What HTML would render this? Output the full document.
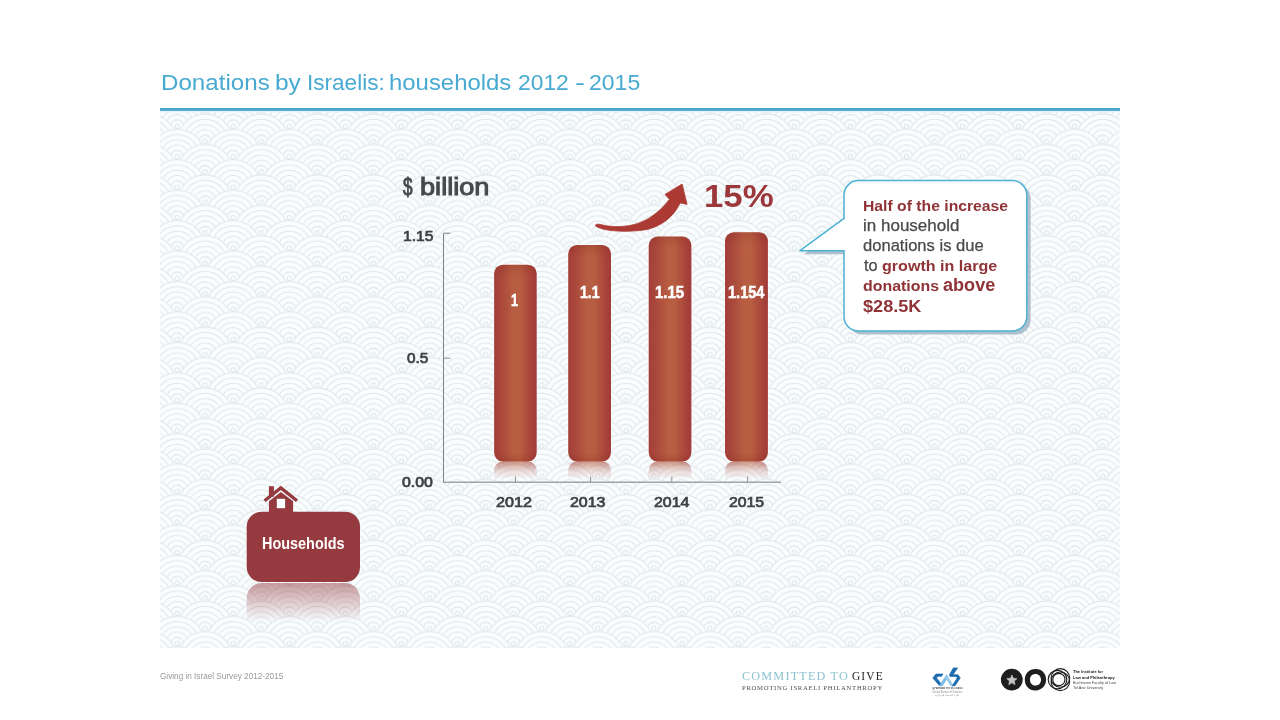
<!DOCTYPE html>
<html lang="en">
<head>
<meta charset="utf-8">
<title>Donations by Israelis: households 2012 - 2015</title>
<style>
html,body{margin:0;padding:0;background:#ffffff;}
body{width:1280px;height:720px;overflow:hidden;position:relative;font-family:"Liberation Sans",sans-serif;}
.slide{position:absolute;left:0;top:0;width:1280px;height:720px;overflow:hidden;background:#ffffff;}
.bgsvg{position:absolute;left:0;top:0;}
.t{position:absolute;white-space:nowrap;transform-origin:0 0;margin:0;padding:0;}
.tw span{position:absolute;top:0;transform-origin:0 0;white-space:nowrap;}
</style>
</head>
<body>
<div class="slide">
<svg class="bgsvg" width="1280" height="720" viewBox="0 0 1280 720">
<defs>
<pattern id="sg" x="36.90" y="19.79" width="56.1" height="30.44" patternUnits="userSpaceOnUse"><circle cx="-28.05" cy="-15.22" r="28.05" fill="#f9fdfe" stroke="none"/><circle cx="-28.05" cy="-15.22" r="27.60" fill="none" stroke="#dfe6e9" stroke-width="1.0"/><circle cx="-28.05" cy="-15.22" r="22.30" fill="none" stroke="#dfe6e9" stroke-width="1.0"/><circle cx="-28.05" cy="-15.22" r="17.00" fill="none" stroke="#dfe6e9" stroke-width="1.0"/><circle cx="-28.05" cy="-15.22" r="11.70" fill="none" stroke="#dfe6e9" stroke-width="1.0"/><circle cx="-28.05" cy="-15.22" r="6.50" fill="none" stroke="#dfe6e9" stroke-width="1.0"/><circle cx="-28.05" cy="-15.22" r="2.20" fill="none" stroke="#dfe6e9" stroke-width="1.0"/><circle cx="28.05" cy="-15.22" r="28.05" fill="#f9fdfe" stroke="none"/><circle cx="28.05" cy="-15.22" r="27.60" fill="none" stroke="#dfe6e9" stroke-width="1.0"/><circle cx="28.05" cy="-15.22" r="22.30" fill="none" stroke="#dfe6e9" stroke-width="1.0"/><circle cx="28.05" cy="-15.22" r="17.00" fill="none" stroke="#dfe6e9" stroke-width="1.0"/><circle cx="28.05" cy="-15.22" r="11.70" fill="none" stroke="#dfe6e9" stroke-width="1.0"/><circle cx="28.05" cy="-15.22" r="6.50" fill="none" stroke="#dfe6e9" stroke-width="1.0"/><circle cx="28.05" cy="-15.22" r="2.20" fill="none" stroke="#dfe6e9" stroke-width="1.0"/><circle cx="84.15" cy="-15.22" r="28.05" fill="#f9fdfe" stroke="none"/><circle cx="84.15" cy="-15.22" r="27.60" fill="none" stroke="#dfe6e9" stroke-width="1.0"/><circle cx="84.15" cy="-15.22" r="22.30" fill="none" stroke="#dfe6e9" stroke-width="1.0"/><circle cx="84.15" cy="-15.22" r="17.00" fill="none" stroke="#dfe6e9" stroke-width="1.0"/><circle cx="84.15" cy="-15.22" r="11.70" fill="none" stroke="#dfe6e9" stroke-width="1.0"/><circle cx="84.15" cy="-15.22" r="6.50" fill="none" stroke="#dfe6e9" stroke-width="1.0"/><circle cx="84.15" cy="-15.22" r="2.20" fill="none" stroke="#dfe6e9" stroke-width="1.0"/><circle cx="-56.10" cy="0.00" r="28.05" fill="#f9fdfe" stroke="none"/><circle cx="-56.10" cy="0.00" r="27.60" fill="none" stroke="#dfe6e9" stroke-width="1.0"/><circle cx="-56.10" cy="0.00" r="22.30" fill="none" stroke="#dfe6e9" stroke-width="1.0"/><circle cx="-56.10" cy="0.00" r="17.00" fill="none" stroke="#dfe6e9" stroke-width="1.0"/><circle cx="-56.10" cy="0.00" r="11.70" fill="none" stroke="#dfe6e9" stroke-width="1.0"/><circle cx="-56.10" cy="0.00" r="6.50" fill="none" stroke="#dfe6e9" stroke-width="1.0"/><circle cx="-56.10" cy="0.00" r="2.20" fill="none" stroke="#dfe6e9" stroke-width="1.0"/><circle cx="0.00" cy="0.00" r="28.05" fill="#f9fdfe" stroke="none"/><circle cx="0.00" cy="0.00" r="27.60" fill="none" stroke="#dfe6e9" stroke-width="1.0"/><circle cx="0.00" cy="0.00" r="22.30" fill="none" stroke="#dfe6e9" stroke-width="1.0"/><circle cx="0.00" cy="0.00" r="17.00" fill="none" stroke="#dfe6e9" stroke-width="1.0"/><circle cx="0.00" cy="0.00" r="11.70" fill="none" stroke="#dfe6e9" stroke-width="1.0"/><circle cx="0.00" cy="0.00" r="6.50" fill="none" stroke="#dfe6e9" stroke-width="1.0"/><circle cx="0.00" cy="0.00" r="2.20" fill="none" stroke="#dfe6e9" stroke-width="1.0"/><circle cx="56.10" cy="0.00" r="28.05" fill="#f9fdfe" stroke="none"/><circle cx="56.10" cy="0.00" r="27.60" fill="none" stroke="#dfe6e9" stroke-width="1.0"/><circle cx="56.10" cy="0.00" r="22.30" fill="none" stroke="#dfe6e9" stroke-width="1.0"/><circle cx="56.10" cy="0.00" r="17.00" fill="none" stroke="#dfe6e9" stroke-width="1.0"/><circle cx="56.10" cy="0.00" r="11.70" fill="none" stroke="#dfe6e9" stroke-width="1.0"/><circle cx="56.10" cy="0.00" r="6.50" fill="none" stroke="#dfe6e9" stroke-width="1.0"/><circle cx="56.10" cy="0.00" r="2.20" fill="none" stroke="#dfe6e9" stroke-width="1.0"/><circle cx="112.20" cy="0.00" r="28.05" fill="#f9fdfe" stroke="none"/><circle cx="112.20" cy="0.00" r="27.60" fill="none" stroke="#dfe6e9" stroke-width="1.0"/><circle cx="112.20" cy="0.00" r="22.30" fill="none" stroke="#dfe6e9" stroke-width="1.0"/><circle cx="112.20" cy="0.00" r="17.00" fill="none" stroke="#dfe6e9" stroke-width="1.0"/><circle cx="112.20" cy="0.00" r="11.70" fill="none" stroke="#dfe6e9" stroke-width="1.0"/><circle cx="112.20" cy="0.00" r="6.50" fill="none" stroke="#dfe6e9" stroke-width="1.0"/><circle cx="112.20" cy="0.00" r="2.20" fill="none" stroke="#dfe6e9" stroke-width="1.0"/><circle cx="-28.05" cy="15.22" r="28.05" fill="#f9fdfe" stroke="none"/><circle cx="-28.05" cy="15.22" r="27.60" fill="none" stroke="#dfe6e9" stroke-width="1.0"/><circle cx="-28.05" cy="15.22" r="22.30" fill="none" stroke="#dfe6e9" stroke-width="1.0"/><circle cx="-28.05" cy="15.22" r="17.00" fill="none" stroke="#dfe6e9" stroke-width="1.0"/><circle cx="-28.05" cy="15.22" r="11.70" fill="none" stroke="#dfe6e9" stroke-width="1.0"/><circle cx="-28.05" cy="15.22" r="6.50" fill="none" stroke="#dfe6e9" stroke-width="1.0"/><circle cx="-28.05" cy="15.22" r="2.20" fill="none" stroke="#dfe6e9" stroke-width="1.0"/><circle cx="28.05" cy="15.22" r="28.05" fill="#f9fdfe" stroke="none"/><circle cx="28.05" cy="15.22" r="27.60" fill="none" stroke="#dfe6e9" stroke-width="1.0"/><circle cx="28.05" cy="15.22" r="22.30" fill="none" stroke="#dfe6e9" stroke-width="1.0"/><circle cx="28.05" cy="15.22" r="17.00" fill="none" stroke="#dfe6e9" stroke-width="1.0"/><circle cx="28.05" cy="15.22" r="11.70" fill="none" stroke="#dfe6e9" stroke-width="1.0"/><circle cx="28.05" cy="15.22" r="6.50" fill="none" stroke="#dfe6e9" stroke-width="1.0"/><circle cx="28.05" cy="15.22" r="2.20" fill="none" stroke="#dfe6e9" stroke-width="1.0"/><circle cx="84.15" cy="15.22" r="28.05" fill="#f9fdfe" stroke="none"/><circle cx="84.15" cy="15.22" r="27.60" fill="none" stroke="#dfe6e9" stroke-width="1.0"/><circle cx="84.15" cy="15.22" r="22.30" fill="none" stroke="#dfe6e9" stroke-width="1.0"/><circle cx="84.15" cy="15.22" r="17.00" fill="none" stroke="#dfe6e9" stroke-width="1.0"/><circle cx="84.15" cy="15.22" r="11.70" fill="none" stroke="#dfe6e9" stroke-width="1.0"/><circle cx="84.15" cy="15.22" r="6.50" fill="none" stroke="#dfe6e9" stroke-width="1.0"/><circle cx="84.15" cy="15.22" r="2.20" fill="none" stroke="#dfe6e9" stroke-width="1.0"/><circle cx="-56.10" cy="30.44" r="28.05" fill="#f9fdfe" stroke="none"/><circle cx="-56.10" cy="30.44" r="27.60" fill="none" stroke="#dfe6e9" stroke-width="1.0"/><circle cx="-56.10" cy="30.44" r="22.30" fill="none" stroke="#dfe6e9" stroke-width="1.0"/><circle cx="-56.10" cy="30.44" r="17.00" fill="none" stroke="#dfe6e9" stroke-width="1.0"/><circle cx="-56.10" cy="30.44" r="11.70" fill="none" stroke="#dfe6e9" stroke-width="1.0"/><circle cx="-56.10" cy="30.44" r="6.50" fill="none" stroke="#dfe6e9" stroke-width="1.0"/><circle cx="-56.10" cy="30.44" r="2.20" fill="none" stroke="#dfe6e9" stroke-width="1.0"/><circle cx="0.00" cy="30.44" r="28.05" fill="#f9fdfe" stroke="none"/><circle cx="0.00" cy="30.44" r="27.60" fill="none" stroke="#dfe6e9" stroke-width="1.0"/><circle cx="0.00" cy="30.44" r="22.30" fill="none" stroke="#dfe6e9" stroke-width="1.0"/><circle cx="0.00" cy="30.44" r="17.00" fill="none" stroke="#dfe6e9" stroke-width="1.0"/><circle cx="0.00" cy="30.44" r="11.70" fill="none" stroke="#dfe6e9" stroke-width="1.0"/><circle cx="0.00" cy="30.44" r="6.50" fill="none" stroke="#dfe6e9" stroke-width="1.0"/><circle cx="0.00" cy="30.44" r="2.20" fill="none" stroke="#dfe6e9" stroke-width="1.0"/><circle cx="56.10" cy="30.44" r="28.05" fill="#f9fdfe" stroke="none"/><circle cx="56.10" cy="30.44" r="27.60" fill="none" stroke="#dfe6e9" stroke-width="1.0"/><circle cx="56.10" cy="30.44" r="22.30" fill="none" stroke="#dfe6e9" stroke-width="1.0"/><circle cx="56.10" cy="30.44" r="17.00" fill="none" stroke="#dfe6e9" stroke-width="1.0"/><circle cx="56.10" cy="30.44" r="11.70" fill="none" stroke="#dfe6e9" stroke-width="1.0"/><circle cx="56.10" cy="30.44" r="6.50" fill="none" stroke="#dfe6e9" stroke-width="1.0"/><circle cx="56.10" cy="30.44" r="2.20" fill="none" stroke="#dfe6e9" stroke-width="1.0"/><circle cx="112.20" cy="30.44" r="28.05" fill="#f9fdfe" stroke="none"/><circle cx="112.20" cy="30.44" r="27.60" fill="none" stroke="#dfe6e9" stroke-width="1.0"/><circle cx="112.20" cy="30.44" r="22.30" fill="none" stroke="#dfe6e9" stroke-width="1.0"/><circle cx="112.20" cy="30.44" r="17.00" fill="none" stroke="#dfe6e9" stroke-width="1.0"/><circle cx="112.20" cy="30.44" r="11.70" fill="none" stroke="#dfe6e9" stroke-width="1.0"/><circle cx="112.20" cy="30.44" r="6.50" fill="none" stroke="#dfe6e9" stroke-width="1.0"/><circle cx="112.20" cy="30.44" r="2.20" fill="none" stroke="#dfe6e9" stroke-width="1.0"/><circle cx="-28.05" cy="45.66" r="28.05" fill="#f9fdfe" stroke="none"/><circle cx="-28.05" cy="45.66" r="27.60" fill="none" stroke="#dfe6e9" stroke-width="1.0"/><circle cx="-28.05" cy="45.66" r="22.30" fill="none" stroke="#dfe6e9" stroke-width="1.0"/><circle cx="-28.05" cy="45.66" r="17.00" fill="none" stroke="#dfe6e9" stroke-width="1.0"/><circle cx="-28.05" cy="45.66" r="11.70" fill="none" stroke="#dfe6e9" stroke-width="1.0"/><circle cx="-28.05" cy="45.66" r="6.50" fill="none" stroke="#dfe6e9" stroke-width="1.0"/><circle cx="-28.05" cy="45.66" r="2.20" fill="none" stroke="#dfe6e9" stroke-width="1.0"/><circle cx="28.05" cy="45.66" r="28.05" fill="#f9fdfe" stroke="none"/><circle cx="28.05" cy="45.66" r="27.60" fill="none" stroke="#dfe6e9" stroke-width="1.0"/><circle cx="28.05" cy="45.66" r="22.30" fill="none" stroke="#dfe6e9" stroke-width="1.0"/><circle cx="28.05" cy="45.66" r="17.00" fill="none" stroke="#dfe6e9" stroke-width="1.0"/><circle cx="28.05" cy="45.66" r="11.70" fill="none" stroke="#dfe6e9" stroke-width="1.0"/><circle cx="28.05" cy="45.66" r="6.50" fill="none" stroke="#dfe6e9" stroke-width="1.0"/><circle cx="28.05" cy="45.66" r="2.20" fill="none" stroke="#dfe6e9" stroke-width="1.0"/><circle cx="84.15" cy="45.66" r="28.05" fill="#f9fdfe" stroke="none"/><circle cx="84.15" cy="45.66" r="27.60" fill="none" stroke="#dfe6e9" stroke-width="1.0"/><circle cx="84.15" cy="45.66" r="22.30" fill="none" stroke="#dfe6e9" stroke-width="1.0"/><circle cx="84.15" cy="45.66" r="17.00" fill="none" stroke="#dfe6e9" stroke-width="1.0"/><circle cx="84.15" cy="45.66" r="11.70" fill="none" stroke="#dfe6e9" stroke-width="1.0"/><circle cx="84.15" cy="45.66" r="6.50" fill="none" stroke="#dfe6e9" stroke-width="1.0"/><circle cx="84.15" cy="45.66" r="2.20" fill="none" stroke="#dfe6e9" stroke-width="1.0"/><circle cx="-56.10" cy="60.88" r="28.05" fill="#f9fdfe" stroke="none"/><circle cx="-56.10" cy="60.88" r="27.60" fill="none" stroke="#dfe6e9" stroke-width="1.0"/><circle cx="-56.10" cy="60.88" r="22.30" fill="none" stroke="#dfe6e9" stroke-width="1.0"/><circle cx="-56.10" cy="60.88" r="17.00" fill="none" stroke="#dfe6e9" stroke-width="1.0"/><circle cx="-56.10" cy="60.88" r="11.70" fill="none" stroke="#dfe6e9" stroke-width="1.0"/><circle cx="-56.10" cy="60.88" r="6.50" fill="none" stroke="#dfe6e9" stroke-width="1.0"/><circle cx="-56.10" cy="60.88" r="2.20" fill="none" stroke="#dfe6e9" stroke-width="1.0"/><circle cx="0.00" cy="60.88" r="28.05" fill="#f9fdfe" stroke="none"/><circle cx="0.00" cy="60.88" r="27.60" fill="none" stroke="#dfe6e9" stroke-width="1.0"/><circle cx="0.00" cy="60.88" r="22.30" fill="none" stroke="#dfe6e9" stroke-width="1.0"/><circle cx="0.00" cy="60.88" r="17.00" fill="none" stroke="#dfe6e9" stroke-width="1.0"/><circle cx="0.00" cy="60.88" r="11.70" fill="none" stroke="#dfe6e9" stroke-width="1.0"/><circle cx="0.00" cy="60.88" r="6.50" fill="none" stroke="#dfe6e9" stroke-width="1.0"/><circle cx="0.00" cy="60.88" r="2.20" fill="none" stroke="#dfe6e9" stroke-width="1.0"/><circle cx="56.10" cy="60.88" r="28.05" fill="#f9fdfe" stroke="none"/><circle cx="56.10" cy="60.88" r="27.60" fill="none" stroke="#dfe6e9" stroke-width="1.0"/><circle cx="56.10" cy="60.88" r="22.30" fill="none" stroke="#dfe6e9" stroke-width="1.0"/><circle cx="56.10" cy="60.88" r="17.00" fill="none" stroke="#dfe6e9" stroke-width="1.0"/><circle cx="56.10" cy="60.88" r="11.70" fill="none" stroke="#dfe6e9" stroke-width="1.0"/><circle cx="56.10" cy="60.88" r="6.50" fill="none" stroke="#dfe6e9" stroke-width="1.0"/><circle cx="56.10" cy="60.88" r="2.20" fill="none" stroke="#dfe6e9" stroke-width="1.0"/><circle cx="112.20" cy="60.88" r="28.05" fill="#f9fdfe" stroke="none"/><circle cx="112.20" cy="60.88" r="27.60" fill="none" stroke="#dfe6e9" stroke-width="1.0"/><circle cx="112.20" cy="60.88" r="22.30" fill="none" stroke="#dfe6e9" stroke-width="1.0"/><circle cx="112.20" cy="60.88" r="17.00" fill="none" stroke="#dfe6e9" stroke-width="1.0"/><circle cx="112.20" cy="60.88" r="11.70" fill="none" stroke="#dfe6e9" stroke-width="1.0"/><circle cx="112.20" cy="60.88" r="6.50" fill="none" stroke="#dfe6e9" stroke-width="1.0"/><circle cx="112.20" cy="60.88" r="2.20" fill="none" stroke="#dfe6e9" stroke-width="1.0"/></pattern>
<linearGradient id="bg" x1="0" x2="1" y1="0" y2="0" gradientUnits="objectBoundingBox">
<stop offset="0" stop-color="#a33e39"/><stop offset="0.14" stop-color="#a8463b"/><stop offset="0.44" stop-color="#b75d42"/><stop offset="0.6" stop-color="#b85e42"/><stop offset="0.86" stop-color="#a9453a"/><stop offset="1" stop-color="#a03a38"/>
</linearGradient>
<linearGradient id="bsh" x1="0" x2="0" y1="452.6" y2="461.6" gradientUnits="userSpaceOnUse">
<stop offset="0" stop-color="#7a2015" stop-opacity="0"/><stop offset="1" stop-color="#7a2015" stop-opacity="0.22"/>
</linearGradient>
<linearGradient id="bth" x1="0" x2="0" y1="0" y2="1">
<stop offset="0" stop-color="#7a2015" stop-opacity="0.2"/><stop offset="0.8" stop-color="#7a2015" stop-opacity="0"/>
</linearGradient>
<linearGradient id="rfg" x1="0" x2="0" y1="461.6" y2="479.6" gradientUnits="userSpaceOnUse">
<stop offset="0" stop-color="#fff" stop-opacity="0.62"/><stop offset="0.5" stop-color="#fff" stop-opacity="0.2"/><stop offset="1" stop-color="#fff" stop-opacity="0"/>
</linearGradient>
<mask id="rf" maskUnits="userSpaceOnUse" x="480" y="460.6" width="300" height="24"><rect x="480" y="460.6" width="300" height="25" fill="url(#rfg)"/></mask>
<linearGradient id="hrfg" x1="0" x2="0" y1="583" y2="622" gradientUnits="userSpaceOnUse">
<stop offset="0" stop-color="#fff" stop-opacity="0.5"/><stop offset="1" stop-color="#fff" stop-opacity="0"/>
</linearGradient>
<mask id="hrf" maskUnits="userSpaceOnUse" x="240" y="582" width="130" height="42"><rect x="240" y="582" width="130" height="42" fill="url(#hrfg)"/></mask>
</defs>
<rect x="160" y="111" width="960" height="537" fill="#f6fafc"/>
<rect x="160" y="111" width="960" height="537" fill="url(#sg)"/>
<rect x="160" y="110.8" width="960" height="1.6" fill="#e2f6fb"/>
<rect x="160" y="108" width="960" height="2.9" fill="#4ba7cf"/>
<!-- axes -->
<g fill="none">
<path d="M450.3 233.2H443.5V482.5" stroke="#737c81" stroke-width="0.95"/>
<path d="M443 482.3H781" stroke="#9ea5a9" stroke-width="1.5"/>
<path d="M443.5 358.2H450.5" stroke="#8b9498" stroke-width="1"/>
<path d="M515.5 476.5V482.5M590.6 476.5V482.5M671.8 476.5V482.5M747.6 476.5V482.5" stroke="#8f979b" stroke-width="1"/>
</g>
<rect x="493.5" y="264.09999999999997" width="43.8" height="198.1" rx="9.6" fill="#ffffff" opacity="0.75"/><rect x="494.1" y="461.3" width="42.6" height="30" rx="9" fill="url(#bg)" mask="url(#rf)" /><rect x="494.1" y="264.7" width="42.6" height="196.9" rx="9" fill="url(#bg)"/><rect x="494.1" y="264.7" width="42.6" height="196.9" rx="9" fill="url(#bsh)"/><rect x="494.1" y="264.7" width="42.6" height="16" rx="9" fill="url(#bth)"/><rect x="567.6" y="244.3" width="44.0" height="217.9" rx="9.6" fill="#ffffff" opacity="0.75"/><rect x="568.2" y="461.3" width="42.8" height="30" rx="9" fill="url(#bg)" mask="url(#rf)" /><rect x="568.2" y="244.9" width="42.8" height="216.7" rx="9" fill="url(#bg)"/><rect x="568.2" y="244.9" width="42.8" height="216.7" rx="9" fill="url(#bsh)"/><rect x="568.2" y="244.9" width="42.8" height="16" rx="9" fill="url(#bth)"/><rect x="648.1" y="235.9" width="43.9" height="226.3" rx="9.6" fill="#ffffff" opacity="0.75"/><rect x="648.7" y="461.3" width="42.7" height="30" rx="9" fill="url(#bg)" mask="url(#rf)" /><rect x="648.7" y="236.5" width="42.7" height="225.1" rx="9" fill="url(#bg)"/><rect x="648.7" y="236.5" width="42.7" height="225.1" rx="9" fill="url(#bsh)"/><rect x="648.7" y="236.5" width="42.7" height="16" rx="9" fill="url(#bth)"/><rect x="724.4" y="231.6" width="44.1" height="230.6" rx="9.6" fill="#ffffff" opacity="0.75"/><rect x="725.0" y="461.3" width="42.9" height="30" rx="9" fill="url(#bg)" mask="url(#rf)" /><rect x="725.0" y="232.2" width="42.9" height="229.4" rx="9" fill="url(#bg)"/><rect x="725.0" y="232.2" width="42.9" height="229.4" rx="9" fill="url(#bsh)"/><rect x="725.0" y="232.2" width="42.9" height="16" rx="9" fill="url(#bth)"/>
<!-- arrow -->
<path d="M595.8 224.6C596.3 224.5 597.0 224.0 599.0 224.2C601.0 224.4 604.3 225.6 608.1 226.0C611.9 226.4 617.1 226.8 621.6 226.5C626.1 226.2 630.7 225.5 635.2 224.2C639.7 222.8 644.5 220.9 648.7 218.4C652.9 215.9 657.0 212.5 660.5 209.3C664.0 206.1 668.0 201.1 669.5 199.4L665 194.4L682.1 184L687.1 204.4L680.3 203C679.2 204.7 676.7 209.7 674.0 212.9C671.3 216.1 667.9 219.4 664.1 222.0C660.3 224.6 655.9 226.8 651.4 228.3C646.9 229.8 642.0 230.3 637.0 230.8C632.0 231.3 626.4 231.3 621.6 231.2C616.8 231.1 611.9 230.7 608.1 230.1C604.3 229.5 601.1 228.5 599.0 227.8C596.9 227.1 596.2 226.3 595.6 226.0Z" fill="#ac3a34" stroke="#ac3a34" stroke-width="0.8" stroke-linejoin="round"/>
<!-- bubble -->
<path id="bub" d="M858.5 180.6H1012.3A14.5 14.5 0 0 1 1026.8 195.1V316.5A14.5 14.5 0 0 1 1012.3 331H858.5A14.5 14.5 0 0 1 844 316.5V250.7H800L844 218.4V195.1A14.5 14.5 0 0 1 858.5 180.6Z" transform="translate(3.8 3.6)" fill="#afc0cd"/>
<path d="M858.5 180.6H1012.3A14.5 14.5 0 0 1 1026.8 195.1V316.5A14.5 14.5 0 0 1 1012.3 331H858.5A14.5 14.5 0 0 1 844 316.5V250.7H800L844 218.4V195.1A14.5 14.5 0 0 1 858.5 180.6Z" fill="#ffffff" stroke="#4cb1d3" stroke-width="1.5" stroke-linejoin="round"/>
<!-- households -->
<rect x="246.7" y="583" width="113.3" height="70" rx="15" fill="#953a3e" mask="url(#hrf)"/>
<rect x="246.7" y="511.7" width="113.3" height="70.4" rx="15" fill="#953a3e"/>
<g fill="#953a3e">
<rect x="268.9" y="486.2" width="5" height="10.5"/>
<path d="M268.9 513V501.3L280.9 491.9L293.1 501.3V513Z"/>
<path d="M264.6 500.7L280.85 487.9L297 500.8" fill="none" stroke="#953a3e" stroke-width="3.3" stroke-linejoin="miter"/>
</g>
<rect x="276.8" y="498.8" width="8.3" height="9.4" fill="#fdfefe"/>
<!-- CBS logo -->
<g transform="translate(928 664) scale(0.05)" stroke-width="13" stroke-linejoin="round">
<path d="M95 278L162 200H300L272 245H198L170 278L262 395L232 435Z" fill="#1a6bb0" stroke="#1a6bb0"/>
<path d="M232 435L370 215L400 262L290 435Z" fill="#7fbce4" stroke="#7fbce4"/>
<path d="M370 215L400 262L508 435H450L345 262Z" fill="#9ccbea" stroke="#9ccbea"/>
<path d="M505 78H592L500 215H600L645 278L540 435H485L585 278L560 250H440L425 225Z" fill="#1a6bb0" stroke="#1a6bb0"/>
</g>
<!-- TAU logo -->
<circle cx="1011.8" cy="679.6" r="10.9" fill="#1e1e1e"/>
<path d="M1011.90 674.90L1013.37 678.28L1017.04 678.63L1014.28 681.07L1015.07 684.67L1011.90 682.80L1008.73 684.67L1009.52 681.07L1006.76 678.63L1010.43 678.28Z" fill="#c6c6c6" stroke="#c6c6c6" stroke-width="0.6" stroke-linejoin="round"/>
<path d="M1035.4 668.9C1042 668.7 1046.2 673.5 1046.1 679.8C1046 686 1041.6 690.5 1035.3 690.4C1029 690.3 1024.7 685.8 1024.8 679.4C1024.9 673.3 1029.2 669.1 1035.4 668.9ZM1035.2 674C1031.8 674.2 1029.9 676.6 1030 679.9C1030.1 683.3 1032.4 685.6 1035.9 685.5C1039.2 685.4 1041.1 683 1041 679.6C1040.9 676.3 1038.6 673.8 1035.2 674Z" fill="#1e1e1e" fill-rule="evenodd"/>
<g fill="none" stroke="#1e1e1e" stroke-width="1.15">
<circle cx="1057.5" cy="679.6" r="9.3"/>
<circle cx="1060.35" cy="677.95" r="9.3"/>
<circle cx="1060.35" cy="681.25" r="9.3"/>
<circle cx="1058.9" cy="679.5" r="6.1"/>
</g>
</svg>
<div class="t tw" id="title" style="left:0;top:71px;font:400 22.7px/1 'Liberation Sans', sans-serif;color:#48aad1;"><span style="left:160.95px;transform:scaleX(1.0643);">Donations</span> <span style="left:275.38px;transform:scaleX(1.0791);">by</span> <span style="left:307.05px;transform:scaleX(0.9946);">Israelis:</span> <span style="left:389.42px;transform:scaleX(1.0540);">households</span> <span style="left:518.03px;transform:scaleX(1.0069);">2012</span> <span style="left:574.87px;transform:scaleX(1.3273);">-</span> <span style="left:588.72px;transform:scaleX(1.0138);">2015</span></div>
<div class="t" id="unita" style="left:402.94px;top:176px;font:400 23.3px/1 'Liberation Sans', sans-serif;color:#47494b;transform:scaleX(0.7350);-webkit-text-stroke:0.9px #47494b;">$</div>
<div class="t" id="unitb" style="left:420.23px;top:176px;font:400 23.3px/1 'Liberation Sans', sans-serif;color:#47494b;transform:scaleX(1.1652);-webkit-text-stroke:0.95px #47494b;">billion</div>
<div class="t" id="y115" style="left:402.84px;top:229px;font:400 14.3px/1 'Liberation Sans', sans-serif;color:#3f4143;transform:scaleX(1.0894);-webkit-text-stroke:0.7px #3f4143;">1.15</div>
<div class="t" id="y05" style="left:407.02px;top:351px;font:400 14.3px/1 'Liberation Sans', sans-serif;color:#3f4143;transform:scaleX(1.0718);-webkit-text-stroke:0.7px #3f4143;">0.5</div>
<div class="t" id="y0" style="left:402.31px;top:475px;font:400 14.3px/1 'Liberation Sans', sans-serif;color:#3f4143;transform:scaleX(1.1127);-webkit-text-stroke:0.7px #3f4143;">0.00</div>
<div class="t" id="x12" style="left:495.62px;top:495px;font:400 14.0px/1 'Liberation Sans', sans-serif;color:#3f4143;transform:scaleX(1.1541);-webkit-text-stroke:0.7px #3f4143;">2012</div>
<div class="t" id="x13" style="left:570.12px;top:495px;font:400 14.0px/1 'Liberation Sans', sans-serif;color:#3f4143;transform:scaleX(1.1377);-webkit-text-stroke:0.7px #3f4143;">2013</div>
<div class="t" id="x14" style="left:653.72px;top:495px;font:400 14.0px/1 'Liberation Sans', sans-serif;color:#3f4143;transform:scaleX(1.1380);-webkit-text-stroke:0.7px #3f4143;">2014</div>
<div class="t" id="x15" style="left:728.72px;top:495px;font:400 14.0px/1 'Liberation Sans', sans-serif;color:#3f4143;transform:scaleX(1.1279);-webkit-text-stroke:0.7px #3f4143;">2015</div>
<div class="t" id="b1" style="left:510.98px;top:293px;font:700 16.6px/1 'Liberation Sans', sans-serif;color:#ffffff;transform:scaleX(0.7674);-webkit-text-stroke:0.55px #ffffff;">1</div>
<div class="t" id="b2" style="left:580.07px;top:285px;font:700 16.6px/1 'Liberation Sans', sans-serif;color:#ffffff;transform:scaleX(0.8476);-webkit-text-stroke:0.55px #ffffff;">1.1</div>
<div class="t" id="b3" style="left:655.10px;top:285px;font:700 16.6px/1 'Liberation Sans', sans-serif;color:#ffffff;transform:scaleX(0.9017);-webkit-text-stroke:0.55px #ffffff;">1.15</div>
<div class="t" id="b4" style="left:727.63px;top:285px;font:700 16.6px/1 'Liberation Sans', sans-serif;color:#ffffff;transform:scaleX(0.8762);-webkit-text-stroke:0.55px #ffffff;">1.154</div>
<div class="t" id="pct" style="left:703.70px;top:181px;font:700 31.6px/1 'Liberation Sans', sans-serif;color:#9c383b;transform:scaleX(1.1022);">15%</div>
<div class="t" id="l1" style="left:862.77px;top:198px;font:700 15.3px/1 'Liberation Sans', sans-serif;color:#8f3337;transform:scaleX(1.0282);">Half of the increase</div>
<div class="t" id="l2" style="left:862.95px;top:217px;font:400 16.2px/1 'Liberation Sans', sans-serif;color:#47494b;transform:scaleX(1.0508);-webkit-text-stroke:0.25px #47494b;">in household</div>
<div class="t" id="l3" style="left:863.29px;top:237px;font:400 16.2px/1 'Liberation Sans', sans-serif;color:#47494b;transform:scaleX(1.0237);-webkit-text-stroke:0.25px #47494b;">donations is due</div>
<div class="t" id="l4a" style="left:863.63px;top:257px;font:400 16.2px/1 'Liberation Sans', sans-serif;color:#47494b;transform:scaleX(1.0052);-webkit-text-stroke:0.25px #47494b;">to</div>
<div class="t" id="l4b" style="left:881.50px;top:258px;font:700 15.3px/1 'Liberation Sans', sans-serif;color:#8f3337;transform:scaleX(1.0516);">growth in large</div>
<div class="t" id="l5a" style="left:863.11px;top:278px;font:700 15.3px/1 'Liberation Sans', sans-serif;color:#8f3337;transform:scaleX(1.0413);">donations</div>
<div class="t" id="l5b" style="left:943.09px;top:277px;font:700 17.6px/1 'Liberation Sans', sans-serif;color:#8f3337;transform:scaleX(1.0274);">above</div>
<div class="t" id="l6" style="left:863.44px;top:299px;font:700 16.6px/1 'Liberation Sans', sans-serif;color:#8f3337;transform:scaleX(1.0906);">$28.5K</div>
<div class="t" id="hh" style="left:261.77px;top:535px;font:700 16.3px/1 'Liberation Sans', sans-serif;color:#ffffff;transform:scaleX(0.8858);">Households</div>
<div class="t" id="foot" style="left:159.95px;top:672px;font:400 9px/1 'Liberation Sans', sans-serif;color:#96989a;transform:scaleX(0.9089);">Giving in Israel Survey 2012-2015</div>
<div class="t" id="ctg1" style="left:741.70px;top:670px;font:400 12.2px/1 'Liberation Serif', serif;color:#8dc3cf;transform:scaleX(0.9997);letter-spacing:1.2px;">COMMITTED TO</div>
<div class="t" id="ctg2" style="left:852.03px;top:670px;font:400 12.2px/1 'Liberation Serif', serif;color:#1d1d1f;transform:scaleX(0.9365);letter-spacing:1.2px;">GIVE</div>
<div class="t" id="ctg3" style="left:741.84px;top:685px;font:400 7.1px/1 'Liberation Serif', serif;color:#505052;transform:scaleX(0.9417);letter-spacing:0.75px;">PROMOTING ISRAELI PHILANTHROPY</div>
<div class="t" id="tau1" style="left:1073.40px;top:670px;font:700 4.4px/1 'Liberation Sans', sans-serif;color:#1a1a1a;transform:scaleX(0.9045);">The Institute for</div>
<div class="t" id="tau2" style="left:1072.99px;top:676px;font:700 4.4px/1 'Liberation Sans', sans-serif;color:#1a1a1a;transform:scaleX(0.9166);">Law and Philanthropy</div>
<div class="t" id="tau3" style="left:1073.12px;top:681px;font:400 4.4px/1 'Liberation Sans', sans-serif;color:#444444;transform:scaleX(0.8492);">Buchmann Faculty of Law</div>
<div class="t" id="tau4" style="left:1073.46px;top:686px;font:400 4.4px/1 'Liberation Sans', sans-serif;color:#444444;transform:scaleX(0.8571);">Tel Aviv University</div>
<div class="t" id="cbs1" style="left:932.07px;top:687px;font:700 3.0px/1 'Liberation Sans', 'DejaVu Sans', sans-serif;color:#2a2a3a;transform:scaleX(0.7506);">הלשכה המרכזית לסטטיסטיקה</div>
<div class="t" id="cbs2" style="left:932.05px;top:691px;font:400 2.8px/1 'Liberation Sans', 'DejaVu Sans', sans-serif;color:#909090;transform:scaleX(0.9030);">Central Bureau of Statistics</div>
<div class="t" id="cbs3" style="left:935.03px;top:695px;font:400 2.5px/1 'Liberation Sans', 'DejaVu Sans', sans-serif;color:#8c8c8c;transform:scaleX(1.0435);">دائرة الإحصاء المركزية</div>
</div>
</body>
</html>
